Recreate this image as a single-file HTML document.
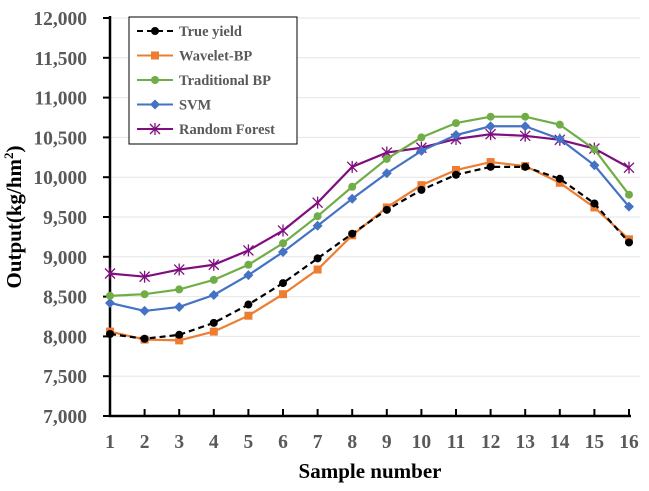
<!DOCTYPE html>
<html><head><meta charset="utf-8"><style>
body{margin:0;background:#fff;}
svg text{font-family:"Liberation Serif",serif;font-weight:bold;}
</style></head><body>
<svg id="c" width="649" height="486" xmlns="http://www.w3.org/2000/svg"></svg>
<script>
const categories=[1,2,3,4,5,6,7,8,9,10,11,12,13,14,15,16];
const yTicks=[7000,7500,8000,8500,9000,9500,10000,10500,11000,11500,12000];
const trueYield=[8030,7970,8020,8170,8400,8670,8980,9290,9590,9840,10030,10130,10130,9980,9670,9180];
const waveletBP=[8060,7960,7950,8060,8260,8530,8840,9270,9620,9900,10090,10190,10140,9930,9620,9220];
const traditionalBP=[8510,8530,8590,8710,8900,9170,9510,9880,10230,10500,10680,10760,10760,10660,10350,9780];
const svm=[8420,8320,8370,8520,8770,9060,9390,9730,10050,10330,10530,10640,10640,10480,10150,9630];
const randomForest=[8790,8750,8840,8900,9080,9330,9680,10130,10310,10370,10480,10540,10520,10470,10360,10120];
const seriesNames=["True yield","Wavelet-BP","Traditional BP","SVM","Random Forest"];

const NS="http://www.w3.org/2000/svg";
const svg=document.getElementById('c');
const X0=110,X1=629,Y0=416,Y1=18;
const xs=i=>X0+(i)*(X1-X0)/(categories.length-1);
const ys=v=>Y0-(v-7000)*(Y0-Y1)/5000;
function mk(t,a,p){const e=document.createElementNS(NS,t);for(const k in a)e.setAttribute(k,a[k]);(p||svg).appendChild(e);return e;}

yTicks.forEach(v=>{
  if(v>7000){const g=mk('line',{x1:X0,x2:640,y1:ys(v),y2:ys(v),stroke:'#e6e6e6','stroke-width':1});
  
  }
  const tk=mk('line',{x1:X0-7,x2:X0,y1:ys(v),y2:ys(v),stroke:'#000','stroke-width':2});
  
  
  const t=mk('text',{x:87,y:ys(v)+7,'text-anchor':'end','font-size':19.5,fill:'#595959'});
  t.textContent=v.toLocaleString('en-US');
  
  
});
categories.forEach((c,i)=>{
  if(i>0){const tk=mk('line',{x1:xs(i),x2:xs(i),y1:Y0-7,y2:Y0,stroke:'#000','stroke-width':2});
  
  }
  const t=mk('text',{x:xs(i),y:448,'text-anchor':'middle','font-size':19.5,fill:'#595959'});
  t.textContent=c;
  
  
});
const ax=mk('path',{d:`M${X0} ${Y1-2}V${Y0}H${X1+2}`,fill:'none',stroke:'#000','stroke-width':2.5});



function marker(type,x,y,color,p){
  let e;
  if(type==='circle')e=mk('circle',{cx:x,cy:y,r:4,fill:color},p);
  else if(type==='square')e=mk('rect',{x:x-4,y:y-4,width:8,height:8,fill:color},p);
  else if(type==='diamond')e=mk('path',{d:`M${x} ${y-5}L${x+5} ${y}L${x} ${y+5}L${x-5} ${y}Z`,fill:color},p);
  else e=mk('path',{d:`M${x-5} ${y-5}L${x+5} ${y+5}M${x-5} ${y+5}L${x+5} ${y-5}M${x} ${y-6}V${y+6}`,stroke:color,'stroke-width':1.3,fill:'none'},p);
  return e;
}
const series=[
 {name:'random-forest',data:randomForest,color:'#7f0e7f',m:'star',dash:''},
 {name:'svm',data:svm,color:'#4472c4',m:'diamond',dash:''},
 {name:'traditional-bp',data:traditionalBP,color:'#70ad47',m:'circle',dash:''},
 {name:'wavelet-bp',data:waveletBP,color:'#ed7d31',m:'square',dash:''},
 {name:'true-yield',data:trueYield,color:'#000',m:'circle',dash:'6,4'},
];
series.forEach(s=>{
  const g=mk('g',{});
  
  
  const pl=mk('polyline',{points:s.data.map((v,i)=>xs(i)+','+ys(v)).join(' '),fill:'none',stroke:s.color,'stroke-width':2.2,'stroke-dasharray':s.dash},g);
  
  
  s.data.forEach((v,i)=>{const m=marker(s.m,xs(i),ys(v),s.color,g);
    
    });
});
// legend
const lg=mk('g',{});


mk('rect',{x:129,y:17,width:168,height:127,fill:'#fff',stroke:'#000','stroke-width':1},lg);
const legendSeries=[series[4],series[3],series[2],series[1],series[0]];
legendSeries.forEach((s,i)=>{
  const y=31+i*24.5;
  const e=mk('g',{},lg);
  
  
  mk('line',{x1:137,x2:173,y1:y,y2:y,stroke:s.color,'stroke-width':2,'stroke-dasharray':s.dash},e);
  marker(s.m,155,y,s.color,e);
  const t=mk('text',{x:179,y:y+5,'font-size':14.5,fill:'#595959'},e);
  t.textContent=seriesNames[i];
});
const xt=mk('text',{x:370,y:478,'text-anchor':'middle','font-size':21,fill:'#000'});
xt.textContent='Sample number';


const yt=mk('text',{x:0,y:0,'text-anchor':'middle','font-size':21,fill:'#000',transform:'translate(21,217) rotate(-90)'});
yt.innerHTML='Output(kg/hm<tspan dy="-8" font-size="13">2</tspan><tspan dy="8">)</tspan>';


</script>
</body></html>
